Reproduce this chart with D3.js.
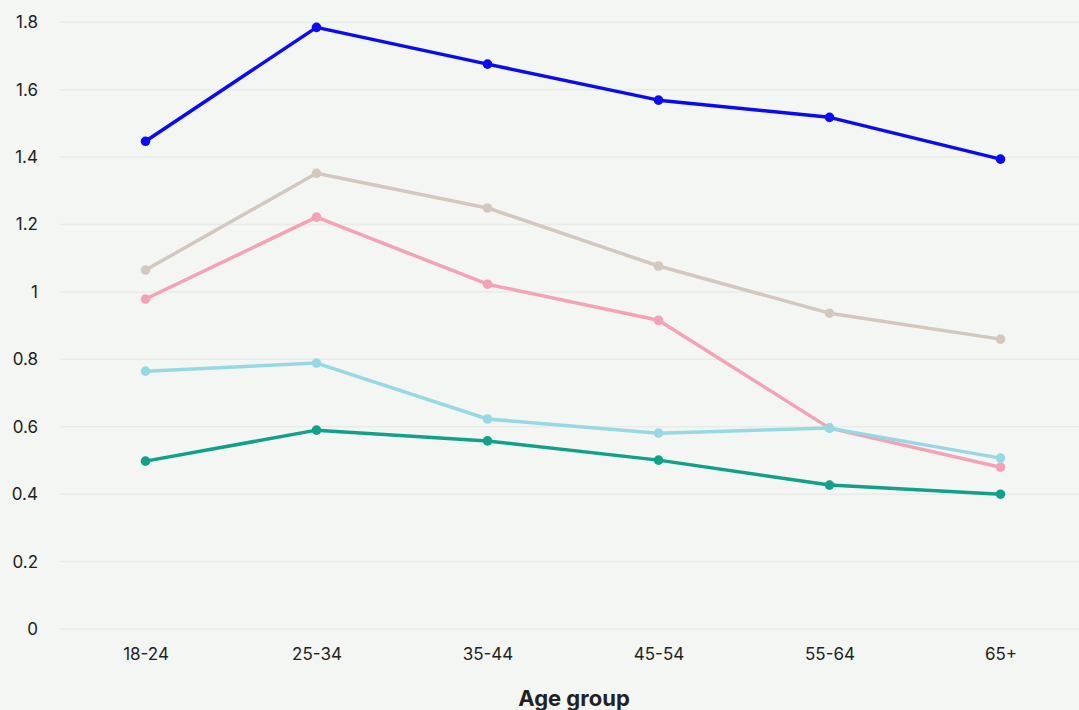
<!DOCTYPE html>
<html>
<head>
<meta charset="utf-8">
<script src="https://cdn.jsdelivr.net/npm/d3@7"></script>
<style>
  html, body { margin: 0; padding: 0; background: #f4f6f3; }
  svg { display: block; }
  text { font-family: "Inter", "Lato", sans-serif; fill: #222; }
</style>
</head>
<body>
<svg id="chart" width="1079" height="710"></svg>
<script>
// Age groups on the x axis
const ageGroups = ["18-24", "25-34", "35-44", "45-54", "55-64", "65+"];

// One array per series, in age-group order
const seriesBlue      = [1.447, 1.785, 1.676, 1.569, 1.518, 1.394];
const seriesBeige     = [1.065, 1.352, 1.249, 1.077, 0.937, 0.860];
const seriesPink      = [0.979, 1.222, 1.023, 0.916, 0.596, 0.480];
const seriesLightBlue = [0.765, 0.789, 0.623, 0.581, 0.596, 0.507];
const seriesGreen     = [0.498, 0.590, 0.558, 0.501, 0.427, 0.400];

// Y tick values and their labels
const yTicks = [0, 0.2, 0.4, 0.6, 0.8, 1, 1.2, 1.4, 1.6, 1.8];
const yTickLabels = ["0", "0.2", "0.4", "0.6", "0.8", "1", "1.2", "1.4", "1.6", "1.8"];

const series = [
  { values: seriesBeige,     color: "#d3c8bf" },
  { values: seriesPink,      color: "#f5a1b6" },
  { values: seriesLightBlue, color: "#96d9e5" },
  { values: seriesGreen,     color: "#12a088" },
  { values: seriesBlue,      color: "#0a0af5" }
];

const svg = d3.select("#chart");
const gridLeft = 60, gridRight = 1079;

const x = d3.scalePoint()
  .domain(ageGroups)
  .range([60, 1086])
  .padding(0.5);

const y = d3.scaleLinear()
  .domain([0, 1.8])
  .range([629, 22.3]);

// Horizontal gridlines
svg.append("g")
  .selectAll("line")
  .data(yTicks)
  .join("line")
  .attr("x1", gridLeft)
  .attr("x2", gridRight)
  .attr("y1", d => y(d))
  .attr("y2", d => y(d))
  .attr("stroke", "#e8ebe7")
  .attr("stroke-width", 1.5);

// Y axis labels
const yAxis = d3.axisLeft(y)
  .tickValues(yTicks)
  .tickFormat((d, i) => yTickLabels[i])
  .tickSize(0)
  .tickPadding(0);

svg.append("g")
  .attr("transform", "translate(38,0)")
  .call(yAxis)
  .call(g => g.select(".domain").remove())
  .call(g => g.selectAll("text")
    .attr("font-family", "Inter, Lato, sans-serif")
    .attr("font-size", 17)
    .attr("fill", "#222"));

// X axis labels
const xAxis = d3.axisBottom(x).tickSize(0).tickPadding(0);
svg.append("g")
  .attr("transform", "translate(0,648)")
  .call(xAxis)
  .call(g => g.select(".domain").remove())
  .call(g => g.selectAll("text")
    .attr("font-family", "Inter, Lato, sans-serif")
    .attr("font-size", 17)
    .attr("fill", "#222"));

// X axis title
svg.append("text")
  .attr("x", 574)
  .attr("y", 706)
  .attr("text-anchor", "middle")
  .attr("font-size", 22)
  .attr("font-weight", 700)
  .attr("fill", "#3a3a3a")
  .text("Age group");

const line = d3.line()
  .x((d, i) => x(ageGroups[i]))
  .y(d => y(d));

const lines = svg.append("g");
series.forEach(s => {
  const g = lines.append("g");
  g.append("path")
    .datum(s.values)
    .attr("d", line)
    .attr("fill", "none")
    .attr("stroke", s.color)
    .attr("stroke-width", 3.5)
    .attr("stroke-linejoin", "round");
  g.selectAll("circle")
    .data(s.values)
    .join("circle")
    .attr("cx", (d, i) => x(ageGroups[i]))
    .attr("cy", d => y(d))
    .attr("r", 4.8)
    .attr("fill", s.color);
});
</script>
</body>
</html>
